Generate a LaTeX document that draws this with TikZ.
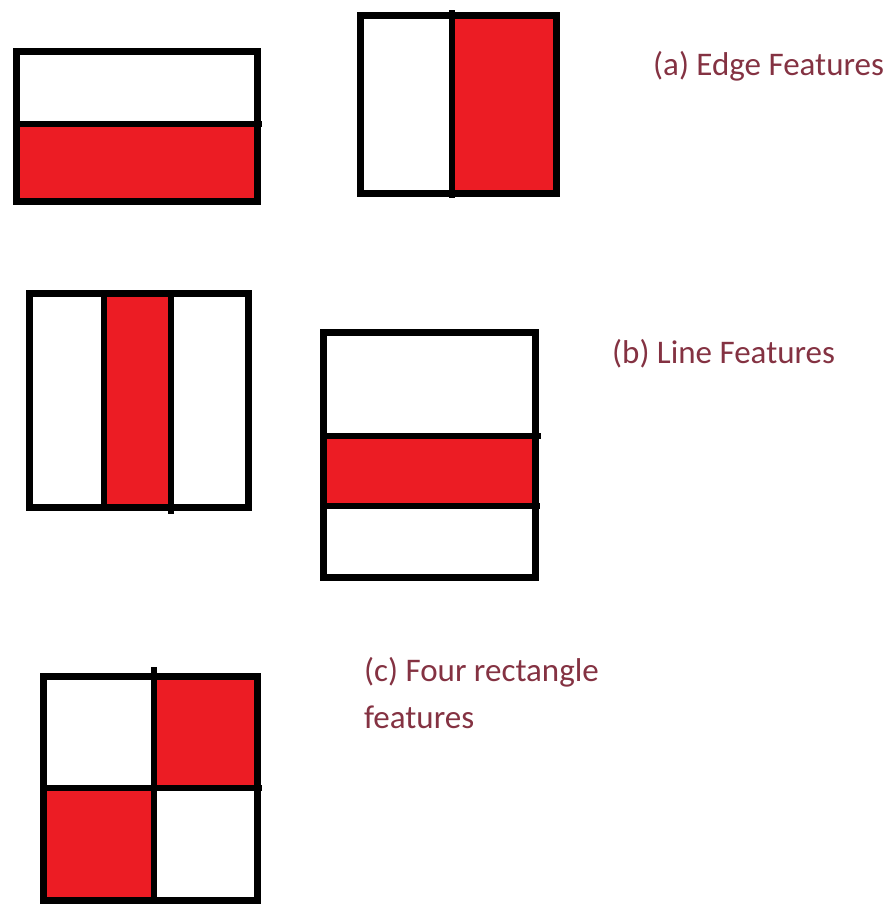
\documentclass[tikz,border=0pt]{standalone}
\usepackage{fontspec}
\setmainfont{Carlito}
\usepackage{xcolor}
\usepackage{tikz}
\usetikzlibrary{positioning}

\definecolor{featred}{RGB}{236,28,36}
\definecolor{labelred}{RGB}{132,50,66}

\begin{document}
\begin{tikzpicture}[
          x=1pt, y=-1pt,
          featbox/.style={draw=black, line width=7pt},
          divline/.style={draw=black, line width=6.5pt},
          redpart/.style={fill=featred},
          featlabel/.style={text=labelred, anchor=base west, inner sep=0pt,
            font=\fontsize{33}{47}\selectfont, align=left}
        ]
          \useasboundingbox (0,0) rectangle (888,905);
          % (a) edge features
          \fill[redpart] (16,124) rectangle (257,201);
          \draw[featbox] (16,51) rectangle (257,201);
          \draw[divline] (16,124) -- (262,124);
          \fill[redpart] (452,15) rectangle (556,193);
          \draw[featbox] (360,15) rectangle (556,193);
          \draw[divline] (452,10) -- (452,198);
          \node[featlabel] (edgelbl) at (653,75) {(a) Edge Features};
          % (b) line features
          \fill[redpart] (104,293) rectangle (171,507);
          \draw[featbox] (29,293) rectangle (248,507);
          \draw[divline] (104,293) -- (104,507);
          \draw[divline] (171,293) -- (171,514);
          \fill[redpart] (323,436) rectangle (535,506);
          \draw[featbox] (323,332) rectangle (535,577);
          \draw[divline] (323,436) -- (541,436);
          \draw[divline] (323,506) -- (540,506);
          \node[featlabel] (linelbl) at (612,363) {(b) Line Features};
          % (c) four rectangle features
          \fill[redpart] (154,676) rectangle (257,788);
          \fill[redpart] (43,788) rectangle (154,900);
          \draw[featbox] (43,676) rectangle (257,900);
          \draw[divline] (154,667) -- (154,900);
          \draw[divline] (43,788) -- (262,788);
          \node[featlabel] (fourlbl) at (364,728) {(c) Four rectangle\\features};
        \end{tikzpicture}
\end{document}
